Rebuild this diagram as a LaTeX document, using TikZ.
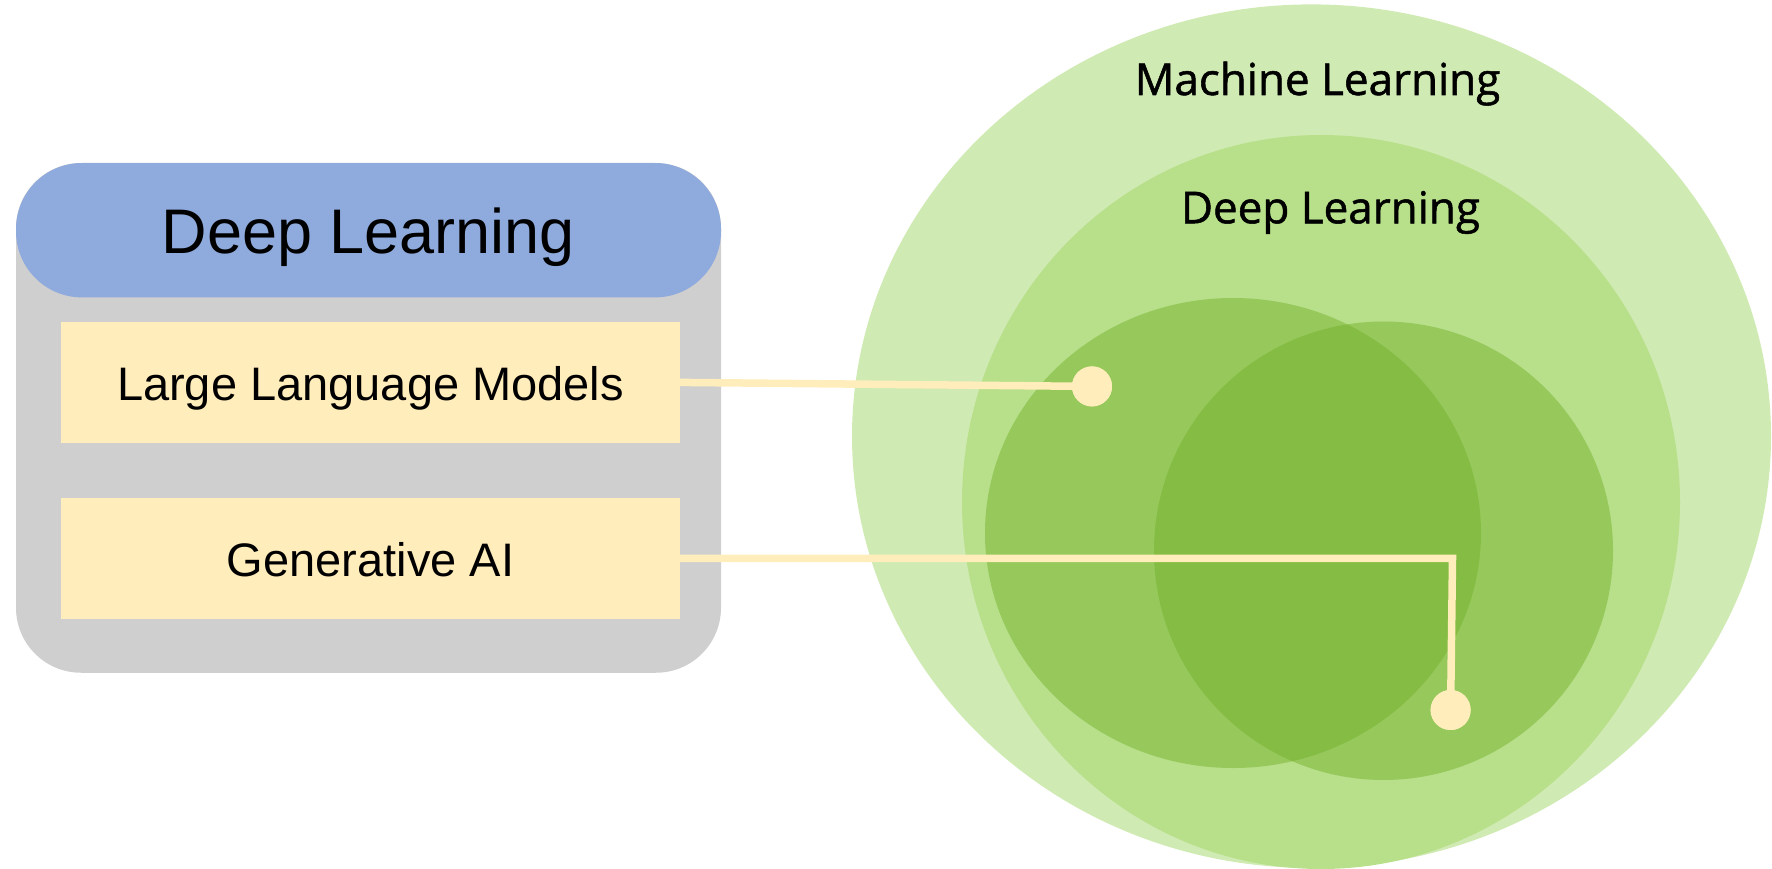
\documentclass[tikz,border=0pt]{standalone}
\usepackage{fontspec}
\setmainfont{Liberation Sans}
\newfontfamily\osans[FakeBold=1.2]{Open Sans}
\usetikzlibrary{shapes.geometric}
\definecolor{grayc}{HTML}{CFCFCF}
\definecolor{bluec}{HTML}{8FAADC}
\definecolor{yelc}{HTML}{FFEDBB}
\definecolor{mlc}{HTML}{D0EAB3}
\definecolor{dlc}{HTML}{B8E08A}
\definecolor{cc}{HTML}{76B22E}
\begin{document}
\begin{tikzpicture}[x=1pt,y=-1pt,
  panel/.style={rectangle, rounded corners=65pt, fill=grayc, minimum width=705pt, minimum height=509.7pt, inner sep=0pt},
  header/.style={rectangle, rounded corners=66pt, fill=bluec, minimum width=705pt, minimum height=134.4pt, inner sep=0pt, font=\fontsize{63}{70}\selectfont, text height=46.4pt, text depth=0pt},
  item/.style={rectangle, fill=yelc, minimum width=619pt, minimum height=121pt, inner sep=0pt, font=\fontsize{47}{55}\selectfont, text height=37pt, text depth=0pt},
  blob/.style={ellipse, inner sep=0pt},
  setlabel/.style={font=\osans\fontsize{44}{50}\selectfont, inner sep=0pt, anchor=base},
  link/.style={draw=yelc, line width=7.5pt},
  endpoint/.style={circle, fill=yelc, minimum size=40pt, inner sep=0pt}
]
\useasboundingbox (0,0) rectangle (1772,869);
% left panel
\node[panel] (panel) at (368.5,417.9) {};
\node[header] (head) at (368.5,230.2) {Deep Learning};
\node[item] (llm) at (370.5,382.4) {Large Language Models};
\node[item] (gen) at (370.5,558.4) {Generative AI};
% right sets
\node[blob, fill=mlc, minimum width=919pt, minimum height=863.6pt] (ml) at (1311.5,436.2) {};
\node[blob, fill=dlc, minimum width=718pt, minimum height=734pt] (dl) at (1321,502) {};
\node[blob, fill=cc, fill opacity=0.5, minimum width=496pt, minimum height=470pt] (c1) at (1233,533) {};
\node[blob, fill=cc, fill opacity=0.5, minimum width=459pt, minimum height=458.5pt] (c2) at (1383.5,550.75) {};
\node[setlabel] (mltext) at (1317.5,95) {Machine Learning};
\node[setlabel] (dltext) at (1330.5,223.3) {Deep Learning};
% connectors
\node[endpoint] (d1) at (1092,386.4) {};
\node[endpoint] (d2) at (1450.6,710) {};
\coordinate (bend) at (1452.5,558.4);
\draw[link] (llm.east) -- (d1.center);
\draw[link] (gen.east) -- (bend) -- (d2.center);
\node[endpoint] at (d1) {};
\node[endpoint] at (d2) {};
\end{tikzpicture}
\end{document}
